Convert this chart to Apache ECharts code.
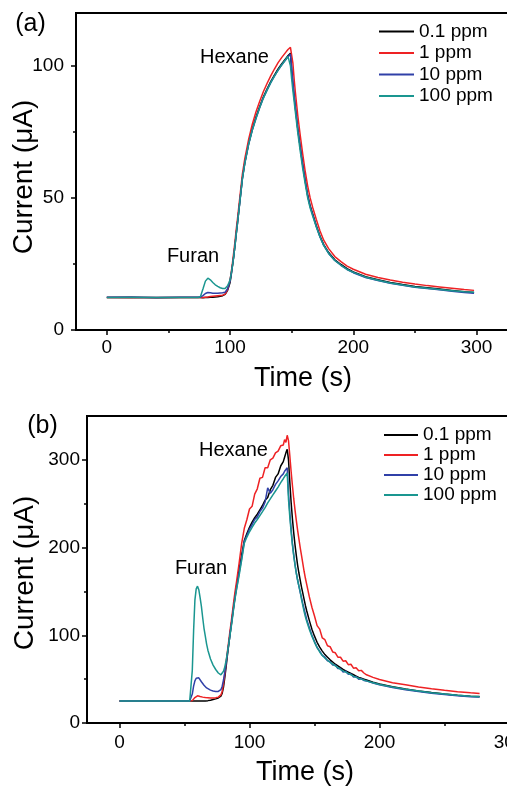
<!DOCTYPE html>
<html>
<head>
<meta charset="utf-8">
<script src="https://cdn.jsdelivr.net/npm/echarts@6/dist/echarts.min.js"></script>
<style>
html,body{margin:0;padding:0;background:#fff;}
#c{width:507px;height:786px;}
</style>
</head>
<body>
<div id="c"></div>
<script>
// ---------- Panel (a) ----------
const tA = [0,20,40,60,70,74,76,78,80,82,84,86,88,90,92,94,96,97,98,99,100,101,102,103,104,105,106,108,110,112,115,118,121,124,127,130,133,136,139,142,145,147,148,149,150,151,152,153,155,157,159,161,163,165,167,170,173,176,180,185,190,195,200,210,220,230,240,250,260,270,280,290,298];
const a_01 = [12.3,12.4,12.2,12.3,12.3, 12.3,12.3,12.2,12.3,12.3, 12.4,12.4,12.5,12.6,12.8, 13.0,13.5,14.0,15.0,16.5,
  18.0,21,24.5,28,32, 36.5,40.5,49,57.5,63.5, 70.5,76,80.5,84.5,88.2, 91.2,94,96.5,98.8,100.8,
  102.6,103.8,104.4,104.8,98, 93,88.5,84,76,69, 62.5,56.5,51,47,44, 39.5,35.5,32.3,29.3,26.6,
  24.8,23.2,22,20.2,19, 18,17.2,16.5,16,15.5, 15,14.5,14.2];
const a_1 = [12.3,12.2,12.3,12.3,12.3, 12.3,12.3,12.3,12.4,12.5, 12.7,12.8,12.9,13.0,13.1, 13.2,13.6,14.2,15.3,17,
  19,22,25.5,29.5,33.5, 38,42,50.5,59,65, 72,77.8,82.5,86.5,90.2, 93.3,96.2,98.8,101.2,103.2,
  105,106.2,106.7,107,107.3, 101,95,90,81,73.5, 66.5,60,54.5,50,46.5, 41.8,37.5,34,30.8,27.8,
  25.9,24.2,23,21.1,19.9, 18.9,18.1,17.4,16.8,16.3, 15.8,15.3,15.0];
const a_10 = [12.4,12.4,12.3,12.4,12.4, 12.4,12.5,13.0,13.8,14.2, 14.1,13.9,13.9,13.9,14.0, 14.1,14.3,14.7,15.6,17,
  18.5,21.3,24.6,28,32, 36.3,40.3,48.8,57.2,63.2, 70.2,75.6,80.1,84.1,87.8, 90.8,93.6,96.1,98.4,100.4,
  102.2,103.4,104.0,104.4,99.5, 94,89,84.5,76,69, 62.3,56.3,50.8,46.7,43.7, 39.2,35.2,32,29,26.3,
  24.5,22.9,21.7,19.9,18.7, 17.7,16.9,16.2,15.7,15.2, 14.7,14.2,13.9];
const a_100 = [12.3,12.3,12.3,12.3,12.3, 12.3,12.7,15.5,18.5,19.6, 19,18,17.1,16.5,16, 15.7,15.7,16,16.8,17.8,
  19,21.5,24.5,28,32, 36.3,40.3,48.8,57.2,63.2, 70.2,75.6,80.1,84.1,87.8, 90.8,93.6,96.1,98.4,100.4,
  102.3,103.6,104.2,100,95, 90.5,86.5,82.5,74.5,67.5, 61,55.3,50,46.2,43.2, 39,35.2,32,29,26.3,
  24.5,22.9,21.8,20,18.8, 17.8,17,16.3,15.8,15.3, 14.9,14.5,14.3];

// ---------- Panel (b) ----------
const tB = [0,20,40,50,54,55,56,57,58,59,60,61,62,63,64,65,66,67,68,70,72,74,76,77,78,79,80,81,82,83,84,85,86,87,88,89,90,92,94,96,98,100,102,104,106,108,110,112,114,116,118,120,122,124,126,127,128,129,130,131,132,133,134,135,136,137,138,139,140,141,142,143,144,146,148,150,152,154,156,158,160,162,164,166,168,170,172,174,176,178,180,182,184,186,188,190,195,200,210,220,230,240,250,260,270,277];
const b_01 = [25,25,25,25,25, 25,25,25,25,25, 25,25,25,25,25, 25.1,25.2,25.3,25.5,26, 26.7,27.5,28.5,29.2,30.5,
  34,41,52,64,77, 89,101,112,124,135, 146,156,174,192,208, 216,223,229,234,238, 243,248,254,257,266,
  271,280,284,293,298, 303,308,312,300,275, 252,233,217,203,191, 180,171,163,155,148, 141,134,128,117,107,
  99,92,86.5,82,78, 75,72,69.5,67,65, 63,61,59.5,58,56.5, 55,53.5,52,51,50, 49,46.5,44.5,41.3,38.7,
  36.6,34.7,33,31.6,30.6, 30.2];
const b_1 = [25,25,25,25,25, 25,25.5,27,29,30.5, 31,30.8,30.2,29.8,29.5, 29.2,29,28.9,28.8,28.6, 28.5,28.7,29.5,30.5,32,
  36,45,56,69,81, 93,105,116,128,140, 151,161,182,205,222, 232,244,247,261,267, 279,280,291,291,300,
  302,308,310,316,317, 323,320,328,322,305, 287,271,256,243,231, 220,210,200,191,182, 173,165,158,144,132,
  122,111,107,97,95, 88,87,81,80,75, 75,70.5,71,66.5,67, 62.5,63,59.5,60,57, 55,52,49.5,46,43.5,
  41,39,37.3,35.7,34.4, 33.7];
const b_10 = [25,25,25,25,25, 25,33,42,48,51, 52,51.5,49.5,47,45, 43,41.5,40,39,37.5, 36.5,36,36,36.5,38,
  42,49,58,68,79, 90,101,112,123,134, 144,153,171,188,207, 214,221,226,232,235, 241,245,252,268,262,
  266,272,276,281,284, 287,289,291,262,240, 221,205,192,181,171, 163,156,149,143,136, 130,124,118,109,100,
  93,86,82,77,75, 71,70,66,66,62, 62,58,59,55.5,56, 52.5,53,50,50.5,48.5, 48,45.5,43.5,40.5,38,
  36,34,32.5,31,30, 29.5];
const b_100 = [25,25,25,25,25, 25,60,105,140,153, 156,152,143,133,120, 108,99,90,83,73, 66,61,57,55.5,55,
  56,59,64,71,80, 90,100,110,121,133, 143,152,168,186,205, 212,218,223,228,232, 236.5,241,245.5,251,255.5,
  260,264.5,269,274,278.5, 281,283,285,255,235, 218,203,191,180,171, 163,156,150,141,134, 127,121,116,107,99,
  92,86,81,77,74, 71.5,69,67,65,63, 61,59.5,58,56.5,55, 53.5,52,51,50,49, 48,46,44,41,38.5,
  36.5,34.5,33,31.5,30.5, 30];

const names = ['0.1 ppm', '1 ppm', '10 ppm', '100 ppm'];
const xTicks = [0, 100, 200, 300];
const xMinor = [50, 150, 250];
const yTicksA = [0, 50, 100];
const yMinorA = [25, 75];
const yTicksB = [0, 100, 200, 300];
const yMinorB = [50, 150, 250];

const FONT = '"Liberation Sans", Arial, sans-serif';
const colors = ['#000000', '#ee2224', '#3040a8', '#1a9690'];

function zip(t, v) { return t.map((x, i) => [x, v[i]]); }

function mainAxis(grid, min, max, ticks, margin, isX) {
  return {
    type: 'value', gridIndex: grid, min: min, max: max, position: isX ? 'bottom' : 'left',
    axisLine: { show: true, onZero: false, lineStyle: { color: '#000', width: 2 } },
    axisTick: { show: true, inside: false, length: 5, customValues: ticks, lineStyle: { color: '#000', width: 1.5 } },
    axisLabel: { show: true, customValues: ticks, margin: margin, color: '#000', fontSize: 19, fontFamily: FONT },
    splitLine: { show: false }
  };
}
function minorAxis(grid, min, max, ticks, isX) {
  return {
    type: 'value', gridIndex: grid, min: min, max: max, position: isX ? 'bottom' : 'left',
    axisLine: { show: false, onZero: false },
    axisTick: { show: true, inside: false, length: 3, customValues: ticks, lineStyle: { color: '#000', width: 1.5 } },
    axisLabel: { show: false },
    splitLine: { show: false }
  };
}

const seriesA = [a_01, a_1, a_10, a_100];
const seriesB = [b_01, b_1, b_10, b_100];
const series = [];
seriesA.forEach((v, i) => series.push({
  type: 'line', name: names[i], xAxisIndex: 0, yAxisIndex: 0, data: zip(tA, v),
  symbol: 'none', showSymbol: false, lineStyle: { color: colors[i], width: 1.5 }, itemStyle: { color: colors[i] }
}));
seriesB.forEach((v, i) => series.push({
  type: 'line', name: names[i], xAxisIndex: 2, yAxisIndex: 2, data: zip(tB, v),
  symbol: 'none', showSymbol: false, lineStyle: { color: colors[i], width: 1.5 }, itemStyle: { color: colors[i] }
}));

function txt(text, x, y, size, rot) {
  return {
    type: 'text', x: x, y: y, rotation: rot || 0, silent: true,
    style: { text: text, x: 0, y: 0, fill: '#000', fontSize: size, fontFamily: FONT, align: 'center', verticalAlign: 'middle' }
  };
}

function legendOf(left, top, w, lh, gap) {
  return {
    data: names, orient: 'vertical', left: left, top: top, padding: 0, itemWidth: w, itemHeight: 14, itemGap: gap,
    selectedMode: false, lineStyle: { width: 2 }, itemStyle: { opacity: 0, borderWidth: 0 },
    textStyle: { fontSize: 19, lineHeight: lh, color: '#000', fontFamily: FONT }
  };
}

const chart = echarts.init(document.getElementById('c'), null, { renderer: 'canvas' });
chart.setOption({
  animation: false,
  backgroundColor: '#fff',
  grid: [
    { left: 76, top: 13, width: 456, height: 317, show: true, borderColor: '#000', borderWidth: 2, containLabel: false, outerBoundsMode: 'none' },
    { left: 87, top: 416, width: 435.5, height: 307, show: true, borderColor: '#000', borderWidth: 2, containLabel: false, outerBoundsMode: 'none' }
  ],
  xAxis: [
    mainAxis(0, -25, 345, xTicks, 8, true),
    minorAxis(0, -25, 345, xMinor, true),
    mainAxis(1, -25, 310, xTicks, 10, true),
    minorAxis(1, -25, 310, xMinor, true)
  ],
  yAxis: [
    mainAxis(0, 0, 120, yTicksA, 12, false),
    minorAxis(0, 0, 120, yMinorA, false),
    mainAxis(1, 0, 350, yTicksB, 7, false),
    minorAxis(1, 0, 350, yMinorB, false)
  ],
  legend: [
    legendOf(378, 21, 35, 21, 0.5),
    legendOf(383, 425, 34, 20, 0)
  ],
  graphic: [
    txt('(a)', 30.5, 24, 25),
    txt('(b)', 42.5, 426, 25),
    txt('Hexane', 234.5, 57.7, 20),
    txt('Furan', 193, 256, 20),
    txt('Hexane', 233.5, 450.7, 20),
    txt('Furan', 201, 568, 20),
    txt('Time (s)', 303, 378.5, 27),
    txt('Time (s)', 305, 773, 27),
    txt('Current (\u03bcA)', 24, 177, 28, Math.PI / 2),
    txt('Current (\u03bcA)', 25, 573, 28, Math.PI / 2)
  ],
  series: series
});
</script>
</body>
</html>
